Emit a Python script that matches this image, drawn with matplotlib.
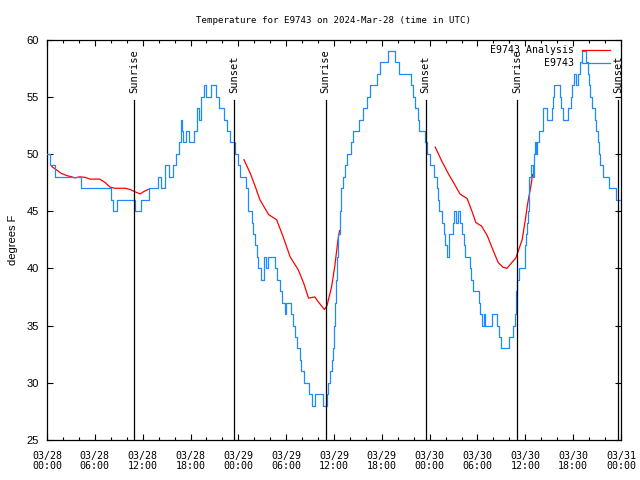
import matplotlib
matplotlib.use("Agg")
import matplotlib.pyplot as plt
import numpy as np
from matplotlib.ticker import MultipleLocator

# hours since 2024-03-28 00:00 UTC, temperature step values (deg F)
obs_hours = [0.0, 0.4, 1.0, 4.3, 8.0, 8.3, 8.8, 11.0, 11.8, 12.8, 13.9, 14.3, 14.8, 15.3,
             15.8, 16.2, 16.6, 16.8, 16.9, 17.1, 17.4, 17.8, 18.4, 18.8, 19.1, 19.3, 19.7,
             20.0, 20.6, 21.2, 21.6, 22.2, 22.6, 23.0, 23.6, 24.0, 24.2, 25.0, 25.2, 25.7,
             25.9, 26.1, 26.3, 26.5, 26.9, 27.2, 27.5, 27.7, 28.6, 28.8, 29.2, 29.5, 29.8,
             30.0, 30.6, 30.8, 31.1, 31.4, 31.7, 31.9, 32.2, 32.9, 33.3, 33.6, 34.6, 35.1,
             35.3, 35.5, 35.7, 35.9, 36.0, 36.1, 36.3, 36.4, 36.5, 36.7, 36.9, 37.1, 37.4,
             37.6, 38.1, 38.4, 39.1, 39.6, 40.2, 40.5, 41.4, 41.8, 42.8, 43.6, 44.2, 45.7,
             45.9, 46.2, 46.5, 46.7, 47.4, 47.7, 48.1, 48.6, 48.9, 49.1, 49.2, 49.6, 49.8,
             49.9, 50.2, 50.4, 50.9, 51.1, 51.3, 51.5, 51.8, 52.0, 52.3, 52.4, 53.0, 53.2,
             53.4, 54.2, 54.3, 54.6, 54.8, 55.0, 55.8, 56.5, 56.7, 56.9, 57.9, 58.4, 58.7,
             58.8, 59.0, 59.2, 59.9, 60.0, 60.1, 60.2, 60.3, 60.4, 60.45, 60.5, 60.7, 61.0,
             61.1, 61.2, 61.4, 61.5, 61.7, 62.2, 62.25, 62.7, 63.3, 63.5, 63.6, 64.4, 64.5,
             64.7, 65.4, 65.7, 65.9, 66.1, 66.4, 66.6, 66.8, 67.1, 67.6, 67.8, 68.0, 68.1,
             68.4, 68.7, 68.9, 69.1, 69.3, 69.4, 69.7, 70.5, 71.4, 72.0]
obs_temps = [50, 49, 48, 47, 46, 45, 46, 45, 46, 47, 48, 47, 49, 48,
             49, 50, 51, 53, 52, 51, 52, 51, 52, 54, 53, 55, 56,
             55, 56, 55, 54, 53, 52, 51, 50, 49, 48, 47, 45, 44,
             43, 42, 41, 40, 39, 41, 40, 41, 40, 39, 38, 37, 36,
             37, 36, 35, 34, 33, 32, 31, 30, 29, 28, 29, 28, 29,
             30, 31, 32, 33, 35, 37, 39, 41, 43, 45, 47, 48, 49,
             50, 51, 52, 53, 54, 55, 56, 57, 58, 59, 58, 57, 56,
             55, 54, 53, 52, 51, 50, 49, 48, 47, 46, 45, 44, 43,
             42, 41, 43, 44, 45, 44, 45, 44, 43, 42, 41, 40, 39,
             38, 37, 36, 35, 36, 35, 36, 35, 34, 33, 34, 35, 36,
             38, 39, 40, 41, 42, 43, 44, 45, 46, 47, 48, 49, 48,
             50, 51, 50, 51, 52, 53, 54, 53, 54, 55, 56, 55, 54,
             53, 54, 55, 56, 57, 56, 57, 58, 59, 58, 57, 56, 55,
             54, 53, 52, 51, 50, 49, 48, 47, 46, 46]

# analysis segments (hours, deg F)
ana1_hours = [0.6, 1.2, 1.8, 2.5, 3.1, 3.5, 4.1, 4.8, 5.4, 6.6, 7.3, 7.9, 8.5, 9.8, 10.4,
              11.0, 11.7, 12.1, 12.7]
ana1_temps = [48.9, 48.6, 48.3, 48.1, 48.0, 47.9, 48.0, 47.95, 47.8, 47.8, 47.5, 47.1, 47.0,
              47.0, 46.9, 46.7, 46.5, 46.7, 46.9]
ana2_hours = [24.7, 25.5, 26.1, 26.7, 27.8, 28.8, 29.6, 30.5, 31.5, 32.2, 32.8, 33.6, 34.0,
              34.8, 35.1, 35.3, 35.7, 36.1, 36.5, 36.7]
ana2_temps = [49.5, 48.3, 47.2, 46.0, 44.7, 44.25, 42.8, 41.0, 39.9, 38.7, 37.4, 37.5, 37.1,
              36.4, 36.7, 37.25, 38.4, 40.2, 42.5, 43.3]
ana3_hours = [48.7, 49.5, 50.4, 51.0, 51.8, 52.7, 53.3, 53.8, 54.5, 55.2, 56.0, 56.6, 57.2,
              57.7, 58.3, 58.8, 59.1, 59.6, 60.0, 60.3, 60.7, 60.9]
ana3_temps = [50.6, 49.4, 48.2, 47.5, 46.5, 46.1, 45.0, 44.0, 43.7, 42.9, 41.5, 40.5, 40.1,
              40.0, 40.5, 40.9, 41.5, 42.5, 44.25, 45.7, 47.2, 48.2]

sun_hours = [10.9, 23.45, 34.95, 47.5, 58.95, 71.6]
sun_labels = ["Sunrise", "Sunset", "Sunrise", "Sunset", "Sunrise", "Sunset"]

tick_hours = list(range(0, 73, 6))
tick_labels = ["03/28\n00:00", "03/28\n06:00", "03/28\n12:00", "03/28\n18:00",
               "03/29\n00:00", "03/29\n06:00", "03/29\n12:00", "03/29\n18:00",
               "03/30\n00:00", "03/30\n06:00", "03/30\n12:00", "03/30\n18:00",
               "03/31\n00:00"]

mono = "DejaVu Sans Mono"
sans = "Liberation Sans"

fig = plt.figure(figsize=(6.4, 4.8), dpi=100)
ax = fig.add_axes([47 / 640, 1 - 440 / 480, 574 / 640, 400.5 / 480])

red = "#ff0000"
blue = "#1a8cff"
ax.plot(ana1_hours, ana1_temps, color=red, lw=0.9, label="E9743 Analysis", zorder=2)
ax.plot(ana2_hours, ana2_temps, color=red, lw=0.9, zorder=2)
ax.plot(ana3_hours, ana3_temps, color=red, lw=0.9, zorder=2)
ax.plot(obs_hours, obs_temps, color=blue, lw=0.9, drawstyle="steps-post", label="E9743",
        zorder=3)

for h, lab in zip(sun_hours, sun_labels):
    ax.plot([h, h], [25, 54.75], color="black", lw=0.9, zorder=4)
    ax.text(h, 55.3, lab, rotation=90, ha="center", va="bottom", fontsize=7.5,
            family=mono, zorder=4)

ax.set_xlim(0, 72)
ax.set_ylim(25, 60)
ax.set_xticks(tick_hours)
ax.set_xticklabels(tick_labels, family=mono, fontsize=7.2, linespacing=1.0)
ax.xaxis.set_minor_locator(MultipleLocator(2))
ax.yaxis.set_major_locator(MultipleLocator(5))
for lab in ax.get_yticklabels():
    lab.set_family(sans)
    lab.set_fontsize(8)
ax.tick_params(which="both", direction="in", top=True, right=True, width=0.8)
ax.tick_params(which="major", length=4)
ax.tick_params(which="minor", length=2)
ax.tick_params(axis="x", which="major", pad=8)
ax.tick_params(axis="y", which="major", pad=6)
for sp in ax.spines.values():
    sp.set_linewidth(0.9)

ax.set_ylabel("degrees F", family=sans, fontsize=8, labelpad=6)
ax.set_title("Temperature for E9743 on 2024-Mar-28 (time in UTC)", family=mono,
             fontsize=6.6, pad=12)

ax.legend(loc="upper right", frameon=False, markerfirst=False,
          prop={"family": mono, "size": 7.1}, handlelength=2.8, handletextpad=0.9,
          labelspacing=0.3, borderpad=0.0, borderaxespad=0.0,
          bbox_to_anchor=(610 / 640, 1 - 45 / 480), bbox_transform=fig.transFigure)

fig.savefig("out.png", dpi=100)
